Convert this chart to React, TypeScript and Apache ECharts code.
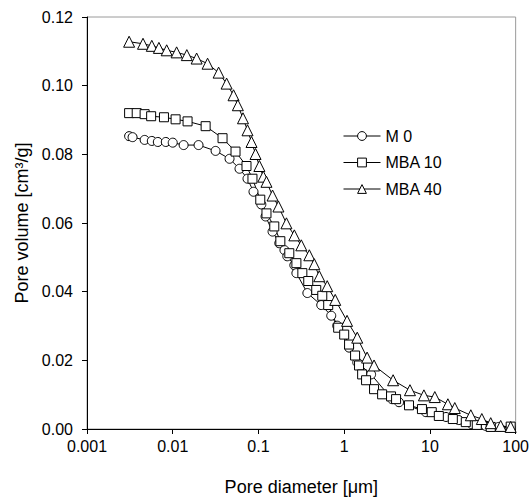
import React, { useEffect, useRef } from "react";
import * as echarts from "echarts";

// Pore diameter [µm] and pore volume [cm3/g] for each sample
const m0Diameter = [0.0031, 0.0034, 0.0047, 0.0057, 0.0067, 0.0083, 0.0100, 0.0134, 0.0200, 0.0316, 0.0460, 0.0601, 0.0745, 0.0875, 0.108, 0.121, 0.146, 0.175, 0.201, 0.217, 0.262, 0.277, 0.372, 0.540, 0.706, 0.829, 1.14, 1.42, 2.06, 3.61, 4.36, 8.98, 15.4, 21.7, 30.8, 44.8, 63.4, 87.5];
const m0Volume = [0.0853, 0.0850, 0.0842, 0.0839, 0.0836, 0.0836, 0.0834, 0.0827, 0.0827, 0.0810, 0.0787, 0.0758, 0.0729, 0.0691, 0.0654, 0.0619, 0.0575, 0.0541, 0.0521, 0.0503, 0.0477, 0.0454, 0.0396, 0.0361, 0.0330, 0.0301, 0.0237, 0.0194, 0.0159, 0.0087, 0.0078, 0.0049, 0.0035, 0.0026, 0.0014, 0.0009, 0.0006, 0.0004];

const mba10Diameter = [0.0031, 0.0038, 0.0047, 0.0056, 0.0079, 0.0108, 0.0149, 0.0242, 0.0381, 0.0540, 0.0725, 0.0851, 0.105, 0.124, 0.153, 0.180, 0.229, 0.277, 0.325, 0.381, 0.472, 0.555, 0.651, 0.851, 1.00, 1.14, 1.34, 1.49, 1.62, 1.80, 2.23, 2.77, 3.52, 4.03, 5.70, 8.07, 10.5, 12.7, 18.5, 26.2, 35.2, 51.2, 87.5];
const mba10Volume = [0.0920, 0.0920, 0.0917, 0.0911, 0.0908, 0.0902, 0.0896, 0.0882, 0.0847, 0.0808, 0.0766, 0.0729, 0.0668, 0.0628, 0.0590, 0.0547, 0.0512, 0.0483, 0.0454, 0.0431, 0.0405, 0.0388, 0.0361, 0.0295, 0.0275, 0.0246, 0.0214, 0.0185, 0.0159, 0.0142, 0.0116, 0.0101, 0.0095, 0.0087, 0.0069, 0.0058, 0.0049, 0.0038, 0.0029, 0.0020, 0.0012, 0.0006, 0.0007];

const mba40Diameter = [0.0031, 0.0045, 0.0057, 0.0069, 0.0085, 0.0111, 0.0146, 0.0190, 0.0255, 0.0343, 0.0425, 0.0512, 0.0575, 0.0660, 0.0745, 0.0830, 0.0925, 0.1025, 0.114, 0.124, 0.146, 0.171, 0.212, 0.262, 0.316, 0.392, 0.448, 0.512, 0.634, 0.786, 1.08, 1.42, 1.85, 2.23, 3.72, 5.85, 8.51, 11.4, 16.2, 19.5, 30.0, 40.3, 51.2, 66.9, 87.5];
const mba40Volume = [0.1128, 0.1122, 0.1116, 0.1110, 0.1103, 0.1097, 0.1089, 0.1079, 0.1064, 0.1038, 0.1006, 0.0972, 0.0943, 0.0905, 0.0870, 0.0836, 0.0801, 0.0766, 0.0735, 0.0720, 0.0680, 0.0648, 0.0599, 0.0564, 0.0535, 0.0506, 0.0480, 0.0445, 0.0416, 0.0376, 0.0315, 0.0266, 0.0208, 0.0185, 0.0142, 0.0113, 0.0098, 0.0093, 0.0072, 0.0061, 0.0040, 0.0029, 0.0017, 0.0009, 0.0006];

const seriesNames = ["M 0", "MBA 10", "MBA 40"];
const xTickValues = [0.001, 0.01, 0.1, 1, 10, 100];
const yTickLabels = ["0.00", "0.02", "0.04", "0.06", "0.08", "0.10", "0.12"];

const zip = (xs: number[], ys: number[]) => xs.map((x, i) => [x, ys[i]]);

const FONT = "'Liberation Sans', Arial, sans-serif";

export default function App() {
  const ref = useRef<HTMLDivElement>(null);
  useEffect(() => {
    document.body.style.margin = "0";
    if (!ref.current) return;
    const chart = echarts.init(ref.current, undefined, { renderer: "svg" });
    const markerStyle = { color: "#ffffff", borderColor: "#000000", borderWidth: 1 };
    const lineStyle = { color: "#000000", width: 1 };
    const mkSeries = (name: string, data: number[][], symbol: string, size: number) => ({
      name,
      type: "line",
      data,
      symbol,
      symbolSize: size,
      showAllSymbol: true,
      itemStyle: markerStyle,
      lineStyle,
      emphasis: { disabled: true },
    });
    chart.setOption({
      animation: false,
      backgroundColor: "#ffffff",
      textStyle: { fontFamily: FONT, color: "#000" },
      grid: {
        left: 87,
        right: 15,
        top: 17,
        bottom: 69,
        show: true,
        borderColor: "#9a9a9a",
        borderWidth: 1,
        backgroundColor: "transparent",
      },
      legend: {
        orient: "vertical",
        left: 338,
        top: 123,
        itemWidth: 37,
        itemHeight: 11,
        itemGap: 10.5,
        data: seriesNames,
        itemStyle: { color: "#ffffff", borderColor: "#000000", borderWidth: 1 },
        lineStyle: { color: "#000000", width: 1 },
        textStyle: { fontFamily: FONT, fontSize: 16, color: "#000", lineHeight: 16 },
        selectedMode: false,
      },
      xAxis: {
        type: "log",
        logBase: 10,
        min: xTickValues[0],
        max: xTickValues[xTickValues.length - 1],
        name: "Pore diameter [\u03bcm]",
        nameLocation: "middle",
        nameGap: 49,
        nameTextStyle: { fontFamily: FONT, fontSize: 18, color: "#000" },
        axisLine: { show: true, lineStyle: { color: "#000", width: 1 } },
        axisTick: { show: true, inside: false, length: 5, lineStyle: { color: "#000" } },
        axisLabel: {
          margin: 9,
          fontFamily: FONT,
          fontSize: 16,
          color: "#000",
          formatter: (v: number) => {
            const e = Math.round(Math.log10(v));
            const t = xTickValues.find((x) => Math.round(Math.log10(x)) === e);
            return t === undefined ? "" : String(t);
          },
        },
        splitLine: { show: false },
        minorTick: { show: false },
      },
      yAxis: {
        type: "value",
        min: 0,
        max: 0.12,
        interval: 0.02,
        name: "Pore volume [cm\u00b3/g]",
        nameLocation: "middle",
        nameGap: 54,
        nameTextStyle: { fontFamily: FONT, fontSize: 18, color: "#000" },
        axisLine: { show: true, lineStyle: { color: "#000", width: 1 } },
        axisTick: { show: true, inside: false, length: 5, lineStyle: { color: "#000" } },
        axisLabel: {
          margin: 14,
          fontFamily: FONT,
          fontSize: 16,
          color: "#000",
          formatter: (v: number) => yTickLabels[Math.round(v / 0.02)] ?? "",
        },
        splitLine: { show: false },
      },
      series: [
        mkSeries(seriesNames[0], zip(m0Diameter, m0Volume), "circle", 9),
        mkSeries(seriesNames[1], zip(mba10Diameter, mba10Volume), "rect", 9),
        mkSeries(seriesNames[2], zip(mba40Diameter, mba40Volume), "triangle", 11),
      ],
    });
    return () => chart.dispose();
  }, []);
  return <div ref={ref} style={{ width: 532, height: 501 }} />;
}
